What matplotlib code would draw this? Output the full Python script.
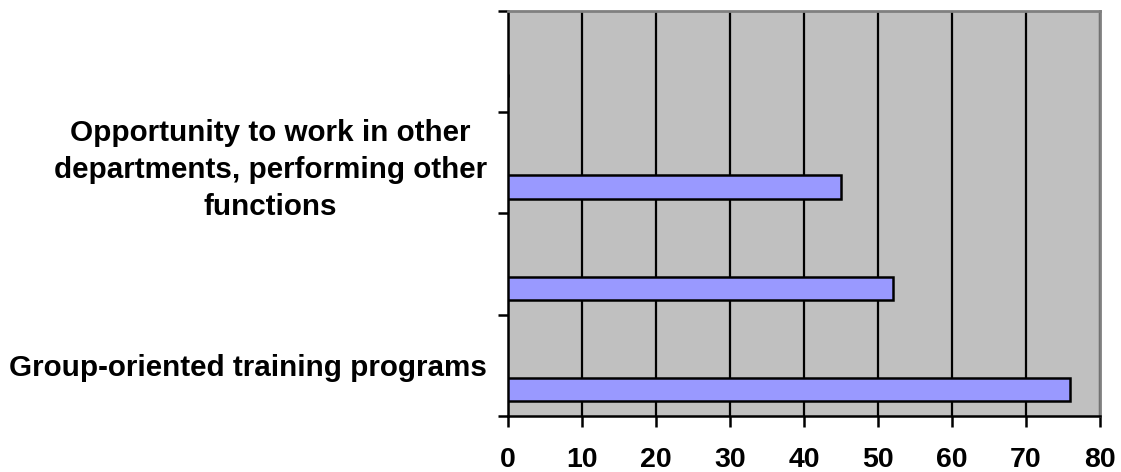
import matplotlib
matplotlib.use("Agg")
import matplotlib.pyplot as plt
import numpy as np

categories = [
    "Group-oriented training programs",
    "",
    "Opportunity to work in other\ndepartments, performing other\nfunctions",
    "",
]
values = [76, 52, 45, 0]
x_ticks = [0, 10, 20, 30, 40, 50, 60, 70, 80]

plt.rcParams['font.family'] = ['Liberation Sans', 'DejaVu Sans']
fig = plt.figure(figsize=(11.21, 4.72), dpi=100)
ax = fig.add_axes([508/1121, 56/472, 592/1121, 405/472])
ax.set_facecolor('#C0C0C0')

y = np.arange(len(categories))
ax.barh(y - 0.238, values, height=0.228, color='#9999FF', edgecolor='black',
        linewidth=1.8, zorder=3)

ax.set_xlim(0, 80)
ax.set_ylim(-0.5, len(categories) - 0.5)
ax.set_xticks(x_ticks)
ax.set_xticklabels([str(v) for v in x_ticks], fontsize=20.5, fontweight='bold')
ax.xaxis.grid(True, color='black', linewidth=1.6, zorder=1)
ax.set_axisbelow(True)

ax.set_yticks(np.arange(len(categories) + 1) - 0.5)
ax.set_yticklabels([])
ax.set_yticks(y, minor=True)
ax.set_yticklabels(categories, minor=True, fontsize=21.3, fontweight='bold',
                   multialignment='center', linespacing=1.4)
ax.tick_params(axis='y', which='minor', length=0, pad=15)
ax.tick_params(axis='y', which='major', length=7, width=1.8, direction='out')
ax.tick_params(axis='x', which='major', length=8, width=1.8, direction='out', pad=14)

for s in ['left', 'bottom']:
    ax.spines[s].set_color('black')
    ax.spines[s].set_linewidth(1.8)
for s in ['top', 'right']:
    ax.spines[s].set_color('#808080')
    ax.spines[s].set_linewidth(2)

fig.savefig('out.png', dpi=100)
